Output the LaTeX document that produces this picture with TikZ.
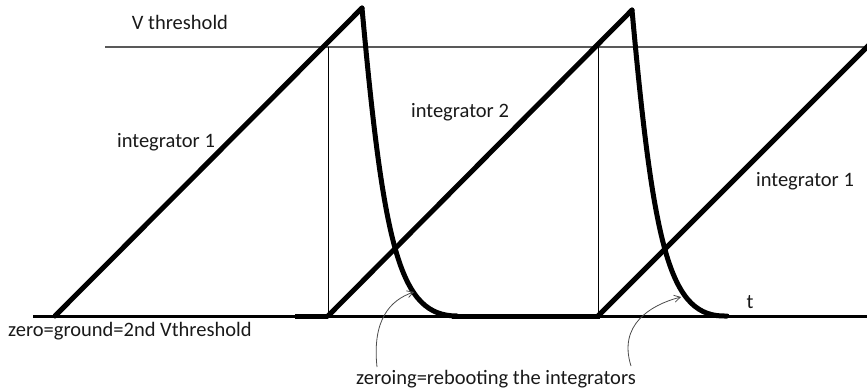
\documentclass[tikz,border=0pt]{standalone}
\usepackage{fontspec}
\setmainfont{Carlito}
\usetikzlibrary{arrows.meta}
\begin{document}
\begin{tikzpicture}[x=1pt,y=-1pt,
  lbl/.style={font=\fontsize{20.5}{24}\selectfont, inner sep=0pt, text=black!90},
  ramp/.style={line width=5pt, line cap=round, line join=round},
  thin/.style={line width=1pt},
  pointer/.style={line width=0.8pt, draw=black!70, -{Straight Barb[length=6pt,width=7pt]}}]
\useasboundingbox (0,0) rectangle (867,389);
% threshold line
\draw[line width=1.6pt, black!65] (105,47) coordinate (th0) -- (867,47) coordinate (th1);
% baseline
\draw[line width=3pt] (33,316) coordinate (b0) -- (867,316) coordinate (b1);
\draw[line width=5pt] (295,316) -- (328,316);
\draw[line width=5pt] (452,316) -- (600,316);
% vertical markers
\draw[thin] (328,47) -- (328,316);
\draw[thin] (598,47) -- (598,316);
% ramps
\draw[ramp] (55,316) coordinate (r1s) -- (362,8) coordinate (p1);
\draw[ramp] (328,316) coordinate (r2s) -- (632,10) coordinate (p2);
\draw[ramp, line cap=butt] (598,316) coordinate (r3s) -- (869,45) coordinate (r3e);
% decays
\draw[ramp] (p1) .. controls (384,250) and (400,316) .. (457,316);
\draw[ramp] (p2) .. controls (654,252) and (670,318) .. (727,316);
% labels
\node[lbl] (vth) at (180,22) {V threshold};
\node[lbl] (i1) at (166,142) {integrator 1};
\node[lbl] (i2) at (460,112) {integrator 2};
\node[lbl] (i3) at (805,181) {integrator 1};
\node[lbl] (t) at (750,302) {t};
\node[lbl, anchor=west] (zero) at (8,331) {zero=ground=2nd Vthreshold};
\node[lbl] (zeroing) at (496,379) {zeroing=rebooting the integrators};
% pointers
\coordinate (a1s) at (377,367);
\coordinate (a1e) at (414,292);
\coordinate (a2s) at (631,366);
\coordinate (a2e) at (681,297);
\draw[pointer] (a1s) .. controls (372,320) and (390,300) .. (a1e);
\draw[pointer] (a2s) .. controls (618,325) and (650,305) .. (a2e);
\end{tikzpicture}
\end{document}
